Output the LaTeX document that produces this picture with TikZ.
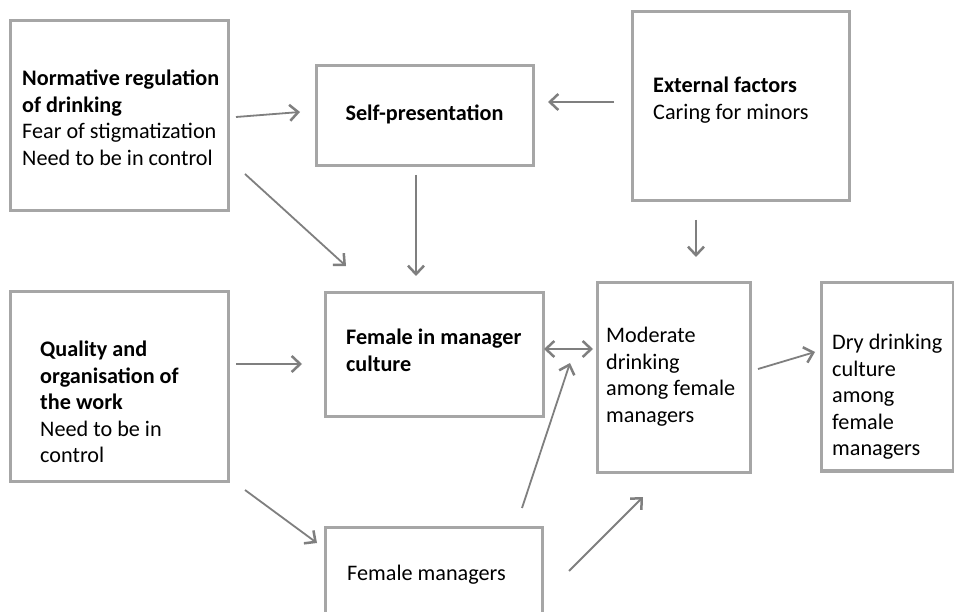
\documentclass[tikz,border=0pt]{standalone}
\usepackage{fontspec}
\setmainfont{Carlito}
\usetikzlibrary{arrows.meta}
\definecolor{boxgray}{HTML}{A6A6A6}
\definecolor{arrgray}{HTML}{7F7F7F}
\newcommand{\txtsize}{\fontsize{22.2}{26.4}\selectfont}
\tikzset{
  box/.style={draw=boxgray, line width=3pt, fill=white, inner sep=0pt, rectangle},
  lbl/.style={inner sep=0pt, anchor=base west, font=\txtsize},
  conn/.style={draw=arrgray, line width=1.8pt, -{Straight Barb[length=8.5pt,width=16pt,line width=2.5pt]}},
  biconn/.style={draw=arrgray, line width=1.8pt, {Straight Barb[length=8.5pt,width=16pt,line width=2.5pt]}-{Straight Barb[length=8.5pt,width=16pt,line width=2.5pt]}}
}
\begin{document}
\begin{tikzpicture}[x=1pt,y=-1pt]
\useasboundingbox (0,0) rectangle (954,612);
\clip (0,0) rectangle (954,612);
\fill[white] (0,0) rectangle (954,612);
% boxes
\node[box, minimum width=218pt, minimum height=190pt] (norm) at (119,116) {};
\node[box, minimum width=217pt, minimum height=100pt] (self) at (424.5,116) {};
\node[box, minimum width=217pt, minimum height=189pt] (ext) at (740.5,106.5) {};
\node[box, minimum width=218pt, minimum height=189pt] (qual) at (119,386.5) {};
\node[box, minimum width=218pt, minimum height=124pt] (cult) at (434,355) {};
\node[box, minimum width=153pt, minimum height=189pt] (mod) at (673.5,377.5) {};
\node[box, minimum width=132pt, minimum height=188pt] (dry) at (887,377) {};
\node[box, minimum width=217pt, minimum height=173pt] (fm) at (433.5,613.5) {};
% texts
\node[lbl] (normtxt) at (22,86) {\parbox[t]{210pt}{\txtsize\raggedright\textbf{Normative regulation}\\\textbf{of drinking}\\Fear of stigmatization\\Need to be in control}};
\node[lbl, anchor=base] (selftxt) at (424.5,121) {\textbf{Self-presentation}};
\node[lbl] (exttxt) at (653,93) {\parbox[t]{190pt}{\txtsize\raggedright\textbf{External factors}\\Caring for minors}};
\node[lbl] (qualtxt) at (40,357) {\parbox[t]{185pt}{\txtsize\raggedright\textbf{Quality and}\\\textbf{organisation of}\\\textbf{the work}\\Need to be in\\control}};
\node[lbl] (culttxt) at (346,345) {\parbox[t]{195pt}{\txtsize\raggedright\textbf{Female in manager}\\\textbf{culture}}};
\node[lbl] (modtxt) at (606,343) {\parbox[t]{140pt}{\txtsize\raggedright Moderate\\drinking\\among female\\managers}};
\node[lbl] (drytxt) at (832,350) {\parbox[t]{120pt}{\txtsize\raggedright Dry drinking\\culture\\among\\female\\managers}};
\node[lbl] (fmtxt) at (347,580) {Female managers};
% connector end points
\coordinate (a1s) at (236,117); \coordinate (a1e) at (300,112);
\coordinate (a2s) at (614,102); \coordinate (a2e) at (548,102);
\coordinate (a3s) at (416,175); \coordinate (a3e) at (416,276);
\coordinate (a4s) at (245,174); \coordinate (a4e) at (346,266);
\coordinate (a5s) at (696,220); \coordinate (a5e) at (696,257);
\coordinate (a6s) at (236,364); \coordinate (a6e) at (302,364);
\coordinate (a7s) at (544,349); \coordinate (a7e) at (593,349);
\coordinate (a8s) at (522,508); \coordinate (a8e) at (570,363);
\coordinate (a9s) at (245,490); \coordinate (a9e) at (317,543);
\coordinate (a10s) at (569,571); \coordinate (a10e) at (643,497);
\coordinate (a11s) at (758,369); \coordinate (a11e) at (815,352);
% connectors
\draw[conn] (a1s) -- (a1e);
\draw[conn] (a2s) -- (a2e);
\draw[conn] (a3s) -- (a3e);
\draw[conn] (a4s) -- (a4e);
\draw[conn] (a5s) -- (a5e);
\draw[conn] (a6s) -- (a6e);
\draw[biconn] (a7s) -- (a7e);
\draw[conn] (a8s) -- (a8e);
\draw[conn] (a9s) -- (a9e);
\draw[conn] (a10s) -- (a10e);
\draw[conn] (a11s) -- (a11e);
\end{tikzpicture}
\end{document}
